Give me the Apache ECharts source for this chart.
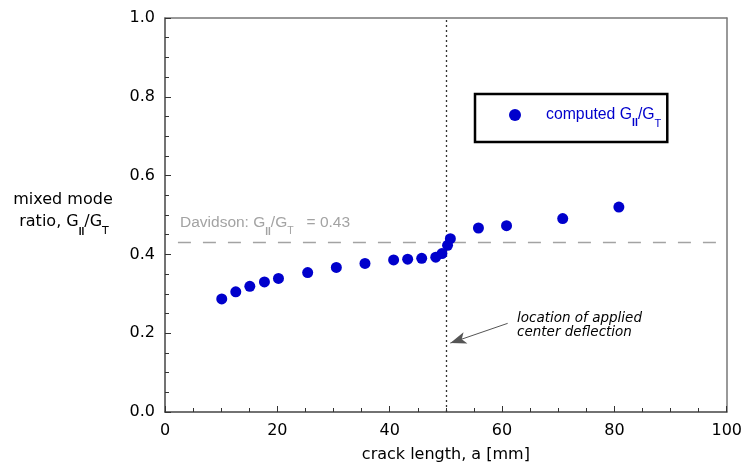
<!DOCTYPE html>
<html>
<head>
<meta charset="utf-8">
<script src="https://cdn.jsdelivr.net/npm/echarts@6/dist/echarts.min.js"></script>
<style>html,body{margin:0;padding:0;background:#fff;}#c{width:745px;height:468px;}</style>
</head>
<body>
<div id="c"></div>
<script>
// crack length a [mm]
const crackLength = [10.1, 12.6, 15.1, 17.7, 20.2, 25.4, 30.5, 35.6, 40.7, 43.2, 45.7, 48.2, 49.3, 50.3, 50.8, 55.8, 60.8, 70.8, 80.8];
// computed mixed mode ratio GII/GT
const modeRatio = [0.287, 0.305, 0.319, 0.330, 0.339, 0.354, 0.367, 0.377, 0.386, 0.388, 0.390, 0.393, 0.402, 0.423, 0.440, 0.467, 0.473, 0.491, 0.520];
const davidsonRatio = 0.43;
const davidsonRange = [2.3, 98.5];
const deflectionLocation = 50;
const arrowFrom = [61.0, 0.225];
const arrowTo = [50.8, 0.175];
const xTicks = [0, 20, 40, 60, 80, 100];
const yTicks = [0.0, 0.2, 0.4, 0.6, 0.8, 1.0];

const SANS = '"Liberation Sans", Arial, Helvetica, sans-serif';
const WIDE = '"DejaVu Sans", Verdana, sans-serif';
const BLUE = '#0000cc';
const GRAY = '#a3a3a3';

const chart = echarts.init(document.getElementById('c'), null, {renderer: 'canvas'});
const data = crackLength.map((x, i) => [x, modeRatio[i]]);

chart.setOption({
  animation: false,
  backgroundColor: '#fff',
  grid: {left: 165, right: 18, top: 18, bottom: 55, containLabel: false},
  xAxis: [{
    type: 'value', min: xTicks[0], max: xTicks[xTicks.length - 1], interval: 20,
    name: 'crack length, a [mm]', nameLocation: 'middle', nameGap: 35,
    nameTextStyle: {fontFamily: WIDE, fontSize: 16, color: '#000'},
    axisLine: {onZero: false, lineStyle: {color: '#444', width: 1.5}},
    axisTick: {inside: true, length: 6, lineStyle: {color: '#333'}},
    minorTick: {show: true, splitNumber: 4, length: 4, lineStyle: {color: '#333'}},
    axisLabel: {fontFamily: WIDE, fontSize: 16, color: '#000', margin: 11},
    splitLine: {show: false}
  }, {
    type: 'value', position: 'top', min: 0, max: 100,
    axisLine: {show: true, onZero: false, lineStyle: {color: '#777', width: 1.5}},
    axisTick: {show: false}, axisLabel: {show: false}, splitLine: {show: false}
  }],
  yAxis: [{
    type: 'value', min: yTicks[0], max: yTicks[yTicks.length - 1], interval: 0.2,
    axisLine: {show: true, onZero: false, lineStyle: {color: '#444', width: 1.5}},
    axisTick: {show: true, inside: true, length: 6, lineStyle: {color: '#333'}},
    minorTick: {show: true, splitNumber: 4, length: 4, lineStyle: {color: '#333'}},
    axisLabel: {fontFamily: WIDE, fontSize: 16, color: '#000', margin: 10, formatter: v => v.toFixed(1)},
    splitLine: {show: false}
  }, {
    type: 'value', position: 'right', min: 0, max: 1,
    axisLine: {show: true, onZero: false, lineStyle: {color: '#777', width: 1.5}},
    axisTick: {show: false}, axisLabel: {show: false}, splitLine: {show: false}
  }],
  legend: {
    left: 475, top: 94,
    orient: 'vertical',
    borderColor: '#000', borderWidth: 2.5, borderRadius: 0,
    padding: [13, 6, 13, 34],
    itemWidth: 12, itemHeight: 12,
    icon: 'circle',
    data: ['computed'],
    formatter: () => '{p|}{n|computed G}{b|II}{n|/G}{s|T}',
    textStyle: {rich: {
      p: {width: 20, lineHeight: 28},
      n: {fontSize: 15.8, fontFamily: SANS, color: BLUE, lineHeight: 28, verticalAlign: 'middle'},
      b: {fontSize: 10.5, fontFamily: SANS, color: BLUE, fontWeight: 'bold', lineHeight: 10, verticalAlign: 'bottom'},
      s: {fontSize: 11, fontFamily: SANS, color: BLUE, lineHeight: 10, verticalAlign: 'bottom'}
    }}
  },
  series: [{
    name: 'computed',
    type: 'scatter',
    data: data,
    symbol: 'circle',
    symbolSize: 11,
    itemStyle: {color: BLUE, opacity: 1},
    z: 5
  }, {
    name: 'refs',
    type: 'line',
    data: [],
    silent: true,
    markLine: {
      silent: true, symbol: ['none', 'none'], animation: false,
      label: {show: false},
      data: [
        [{coord: [davidsonRange[0], davidsonRatio], lineStyle: {color: GRAY, width: 1.3, type: [13, 12]}},
         {coord: [davidsonRange[1], davidsonRatio]}],
        [{coord: [deflectionLocation, 0], lineStyle: {color: '#333', width: 1.3, type: [2, 3]}},
         {coord: [deflectionLocation, 1]}],
        [{coord: arrowFrom, symbol: 'none', lineStyle: {color: '#555', width: 1, type: 'solid'}, itemStyle: {color: '#000'}},
         {coord: arrowTo, symbol: 'arrow', symbolSize: [9, 16], itemStyle: {color: '#000'}}]
      ]
    }
  }],
  graphic: [
    {
      type: 'text', x: 180, y: 222.5,
      style: {
        text: '{n|Davidson: G}{b|II}{n|/G}{s|T}{n|   = 0.43}',
        verticalAlign: 'middle', align: 'left',
        rich: {
          n: {fontSize: 15.5, fontFamily: SANS, fill: GRAY, lineHeight: 29, verticalAlign: 'middle'},
          b: {fontSize: 10, fontFamily: SANS, fill: GRAY, fontWeight: 'bold', lineHeight: 10, verticalAlign: 'bottom'},
          s: {fontSize: 10.5, fontFamily: SANS, fill: GRAY, lineHeight: 10, verticalAlign: 'bottom'}
        }
      }
    },
    {
      type: 'text', x: 63, y: 199.5,
      style: {
        text: 'mixed mode', font: '16px ' + WIDE, fill: '#000',
        align: 'center', verticalAlign: 'middle'
      }
    },
    {
      type: 'text', x: 64, y: 221.5,
      style: {
        text: '{n|ratio, G}{b|II}{n|/G}{s|T}',
        align: 'center', verticalAlign: 'middle',
        rich: {
          n: {fontSize: 16, fontFamily: WIDE, fill: '#000', lineHeight: 31, verticalAlign: 'middle'},
          b: {fontSize: 10, fontFamily: SANS, fill: '#000', fontWeight: 'bold', lineHeight: 10, verticalAlign: 'bottom'},
          s: {fontSize: 11, fontFamily: WIDE, fill: '#000', lineHeight: 10, verticalAlign: 'bottom'}
        }
      }
    },
    {
      type: 'text', x: 517, y: 325,
      style: {
        text: 'location of applied\ncenter deflection',
        font: 'italic 13.5px ' + WIDE, fill: '#000', lineHeight: 14,
        align: 'left', verticalAlign: 'middle'
      }
    }
  ]
});
</script>
</body>
</html>
